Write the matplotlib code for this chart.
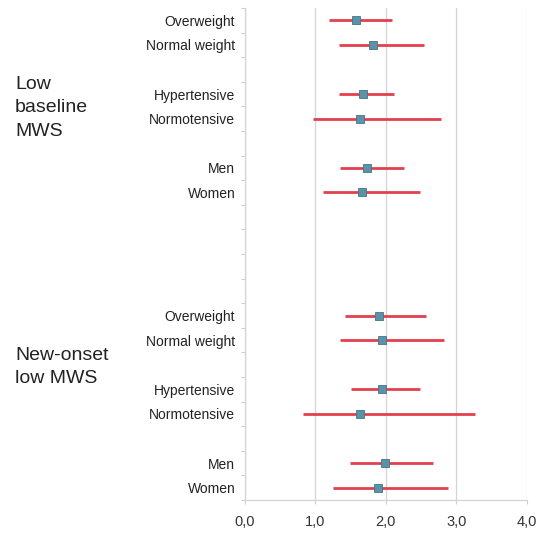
import matplotlib
matplotlib.use("Agg")
import matplotlib.pyplot as plt
import numpy as np

plt.rcParams['font.family'] = ['Liberation Sans', 'DejaVu Sans']

# ---- data ----
groups = ["Low\nbaseline\nMWS", "New-onset\nlow MWS"]
categories = ["Overweight", "Normal weight", "Hypertensive", "Normotensive", "Men", "Women"]

low_est = [1.57, 1.82, 1.68, 1.63, 1.73, 1.66]
low_lo = [1.19, 1.33, 1.34, 0.96, 1.35, 1.11]
low_hi = [2.09, 2.54, 2.11, 2.79, 2.26, 2.49]

new_est = [1.90, 1.95, 1.94, 1.63, 1.99, 1.89]
new_lo = [1.42, 1.35, 1.50, 0.83, 1.49, 1.25]
new_hi = [2.57, 2.82, 2.48, 3.26, 2.67, 2.88]

x_ticks = [0.0, 1.0, 2.0, 3.0, 4.0]
x_tick_labels = ["0,0", "1,0", "2,0", "3,0", "4,0"]

# ---- layout of rows (pairs separated by a blank row, groups by a larger gap) ----
def row_positions(n_cat, start):
    pos = []
    r = start
    for i in range(n_cat):
        pos.append(r)
        r += 1
        if i % 2 == 1:
            r += 1
    return pos

low_pos = row_positions(len(categories), 0)
new_pos = row_positions(len(categories), 12)
n_rows = 20

fig = plt.figure(figsize=(5.4, 5.35), dpi=100)
ax = fig.add_axes([245 / 540, 1 - 500 / 535, (526.7 - 245) / 540, (500 - 8) / 535])

red = "#e2404c"
blue = "#5a93a8"
for est, lo, hi, pos in [(low_est, low_lo, low_hi, low_pos), (new_est, new_lo, new_hi, new_pos)]:
    est = np.array(est); lo = np.array(lo); hi = np.array(hi)
    ax.hlines(pos, lo, hi, color=red, lw=2.0, zorder=3)
    ax.plot(est, pos, 's', color=blue, markersize=5.5, markeredgecolor="#457488",
            markeredgewidth=0.6, zorder=4)

ax.set_xlim(0, 4)
ax.set_ylim(n_rows - 0.5, -0.5)
ax.set_xticks(x_ticks)
ax.set_xticklabels(x_tick_labels, fontsize=10.5, color="#333333")
ax.set_yticks(low_pos + new_pos)
ax.set_yticklabels(categories + categories, fontsize=10, color="#222222")
ax.set_yticks(np.arange(-0.5, n_rows, 1.0), minor=True)
ax.tick_params(axis='y', which='major', length=0, pad=7)
ax.tick_params(axis='y', which='minor', length=3, color="#d0d0d0", width=0.8)
ax.tick_params(axis='x', which='major', length=3, color="#d0d0d0", width=0.8, pad=8)

ax.grid(axis='x', color="#d4d4d4", lw=0.9, zorder=0)
for s in ['top', 'right']:
    ax.spines[s].set_visible(False)
for s in ['left', 'bottom']:
    ax.spines[s].set_color("#d4d4d4")
    ax.spines[s].set_linewidth(0.9)

# group labels
fig.text(15 / 540, 1 - 108 / 535, groups[0], fontsize=14, color="#222222",
         ha='left', va='center', linespacing=1.5)
fig.text(15 / 540, 1 - 367 / 535, groups[1], fontsize=14, color="#222222",
         ha='left', va='center', linespacing=1.5)

fig.savefig("out.png", dpi=100)
